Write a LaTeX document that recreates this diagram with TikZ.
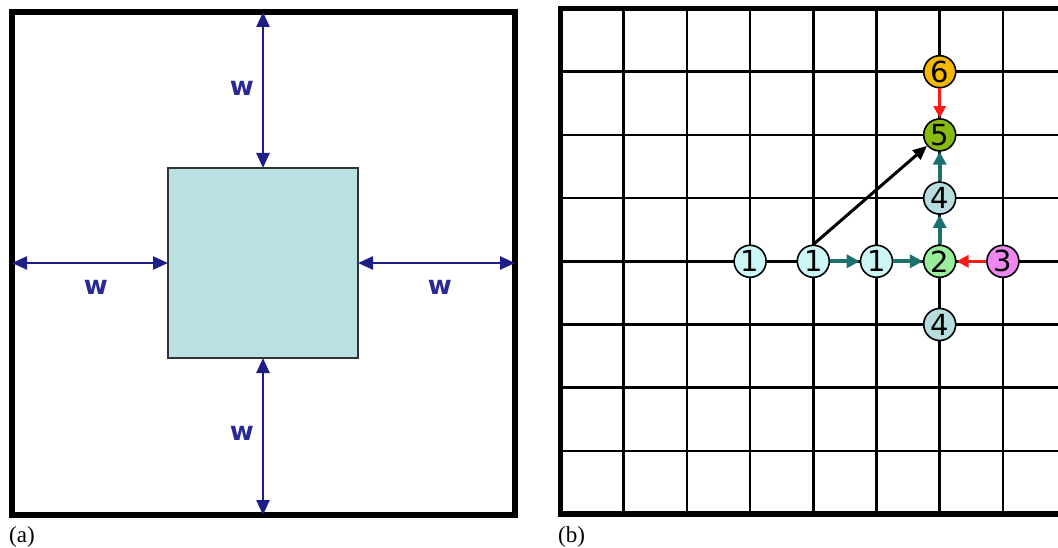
\documentclass[tikz,border=0pt]{standalone}
\usepackage{fontspec}
\setmainfont{Liberation Serif}
\newfontfamily\wfont{DejaVu Sans}
\newfontfamily\numfont{DejaVu Sans}
\usetikzlibrary{arrows.meta}
\definecolor{navyw}{HTML}{2A2A95}
\definecolor{navyarrow}{HTML}{1E1E88}
\definecolor{innerfill}{HTML}{B9E0E2}
\definecolor{tealarrow}{HTML}{1D7070}
\definecolor{redarrow}{HTML}{FF1A1A}
\definecolor{cone}{HTML}{CCF6F6}
\definecolor{ctwo}{HTML}{99EE99}
\definecolor{cthree}{HTML}{EE88EE}
\definecolor{cfour}{HTML}{B8DDE0}
\definecolor{cfive}{HTML}{88BB11}
\definecolor{csix}{HTML}{F5B800}
\tikzset{
  wlabel/.style={text=navyw, font=\wfont\bfseries\fontsize{26}{26}\selectfont, inner sep=0pt},
  dimarrow/.style={draw=navyarrow, line width=2.5pt, {Triangle[length=15pt,width=13pt]}-{Triangle[length=15pt,width=13pt]}},
  gridline/.style={line width=2.6pt, black},
  borderline/.style={line width=5.5pt, black},
  cell/.style={circle, draw=black, line width=1.6pt, minimum size=32pt, inner sep=0pt, font=\numfont\fontsize{29}{29}\selectfont},
  tealar/.style={draw=tealarrow, line width=4pt, -{Triangle[length=13pt,width=13pt]}},
  redar/.style={draw=redarrow, line width=3pt, -{Triangle[length=12pt,width=12pt]}},
  blackar/.style={draw=black, line width=3pt, -{Triangle[length=14pt,width=12pt]}},
  caption/.style={font=\fontsize{23}{23}\selectfont, inner sep=0pt, anchor=west}
}
\begin{document}
\begin{tikzpicture}[x=1pt,y=-1pt]
\useasboundingbox (0,0) rectangle (1058,548);
% ---------- panel (a) ----------
\node[draw=black, line width=6pt, minimum size=503pt, inner sep=0pt, outer sep=0pt] (outer) at (263.5,263.5) {};
\node[draw=black!80, fill=innerfill, line width=1.5pt, minimum size=190pt, inner sep=0pt, outer sep=0pt] (inner) at (263,263) {};
\draw[dimarrow] (outer.north -| inner.north) -- (inner.north);
\draw[dimarrow] (outer.south -| inner.south) -- (inner.south);
\draw[dimarrow] (outer.west |- inner.west) -- (inner.west);
\draw[dimarrow] (outer.east |- inner.east) -- (inner.east);
\node[wlabel] (wt) at (242,88.5) {w};
\node[wlabel] (wb) at (242,433) {w};
\node[wlabel] (wl) at (96,287) {w};
\node[wlabel] (wr) at (440,287) {w};
\node[caption] (capa) at (9,537) {(a)};
% ---------- panel (b) ----------
\foreach \k in {1,...,7} {
  \draw[gridline] (560.5,8.5+\k*63.2) -- (1058,8.5+\k*63.2);
  \draw[gridline] (560.5+\k*63.2,8.5) -- (560.5+\k*63.2,514);
}
\draw[borderline] (1058,8.5) -- (560.5,8.5) -- (560.5,514) -- (1058,514);
\node[cell, fill=cone] (c13) at (750.1,261.3) {1};
\node[cell, fill=cone] (c14) at (813.3,261.3) {1};
\node[cell, fill=cone] (c15) at (876.5,261.3) {1};
\node[cell, fill=ctwo] (c2) at (939.7,261.3) {2};
\node[cell, fill=cthree] (c3) at (1002.9,261.3) {3};
\node[cell, fill=cfour] (c4u) at (939.7,198.1) {4};
\node[cell, fill=cfour] (c4d) at (939.7,324.5) {4};
\node[cell, fill=cfive] (c5) at (939.7,134.9) {5};
\node[cell, fill=csix] (c6) at (939.7,71.7) {6};
\draw[tealar] (c14) -- (c15);
\draw[tealar] (c15) -- (c2);
\draw[tealar] (c2) -- (c4u);
\draw[tealar] (c4u) -- (c5);
\draw[redar] (c3) -- (c2);
\draw[redar] (c6) -- (c5);
\draw[blackar] (c14.north) -- (c5);
\node[caption] (capb) at (558,537) {(b)};
\end{tikzpicture}
\end{document}
